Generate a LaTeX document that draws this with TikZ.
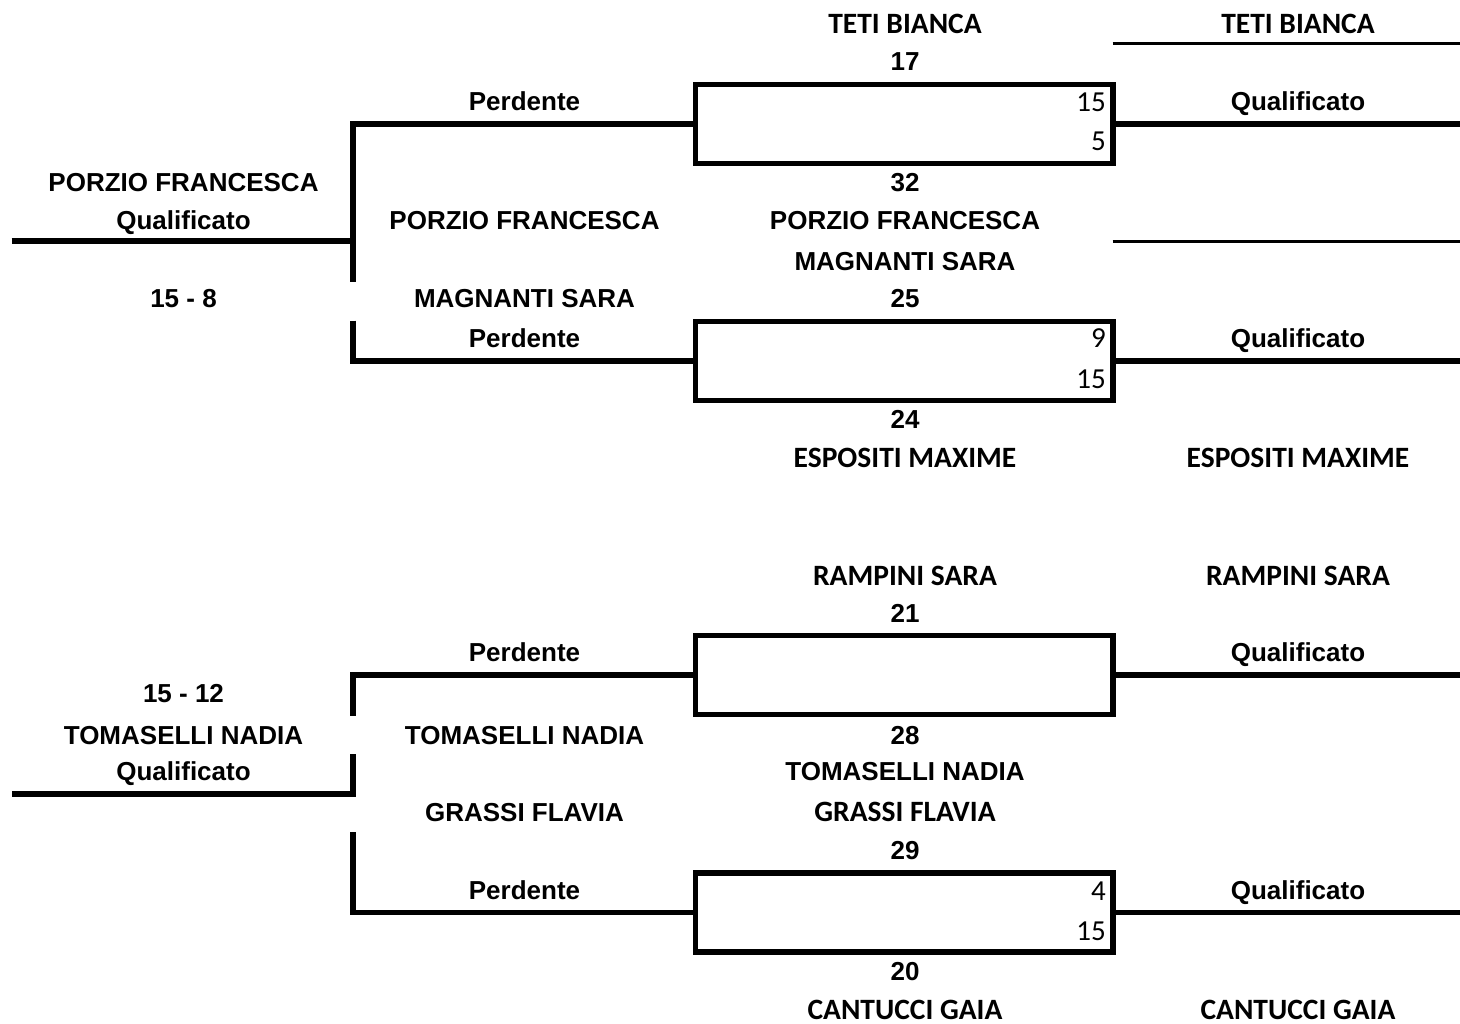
\documentclass[tikz,border=0pt]{standalone}
\usepackage{fontspec}
\newfontfamily\arfont{Liberation Sans}
\newfontfamily\calfont{Carlito}
\begin{document}
\begin{tikzpicture}[x=1pt,y=-1pt,
  ar/.style={font=\arfont\bfseries\fontsize{26}{30}\selectfont, anchor=base, inner sep=0pt},
  cal/.style={font=\calfont\bfseries\fontsize{29.5}{33}\selectfont, anchor=base, inner sep=0pt},
  sc/.style={font=\calfont\fontsize{29}{33}\selectfont, anchor=base east, inner sep=0pt},
  boxn/.style={draw, line width=5.5pt, minimum width=417.7pt, minimum height=79pt, inner sep=0pt},
  wire/.style={line width=5.5pt, line join=miter},
  thinwire/.style={line width=3.5pt}]
\useasboundingbox[fill=white] (0,0) rectangle (1460,1024);

% ---------- boxes ----------
\node[boxn] (box1) at (904.15,123.9) {};
\node[boxn] (box2) at (904.15,361.2) {};
\node[boxn] (box3) at (904.15,675) {};
\node[boxn] (box4) at (904.15,912.6) {};

% ---------- coordinates ----------
\coordinate (l1) at (11.7,241);
\coordinate (m1) at (353,241);
\coordinate (a1) at (353,123.9);
\coordinate (a2) at (353,281.7);
\coordinate (a3) at (353,320.7);
\coordinate (a4) at (353,361.2);
\coordinate (r1) at (1460,123.9);
\coordinate (r2) at (1460,361.2);
\coordinate (t1a) at (1112.7,43.3);
\coordinate (t1b) at (1460,43.3);
\coordinate (t2a) at (1112.7,241.3);
\coordinate (t2b) at (1460,241.3);

\coordinate (c1) at (353,675);
\coordinate (c2) at (353,715.7);
\coordinate (c3) at (353,754.3);
\coordinate (c4) at (353,793.8);
\coordinate (l2) at (11.7,793.8);
\coordinate (c5) at (353,832.3);
\coordinate (c6) at (353,912.6);
\coordinate (r3) at (1460,675);
\coordinate (r4) at (1460,912.6);

% ---------- connectors ----------
\draw[wire] (l1) -- (m1);
\draw[wire] (box1.west) -- (a1) -- (a2);
\draw[wire] (a3) -- (a4) -- (box2.west);
\draw[wire] (box1.east) -- (r1);
\draw[wire] (box2.east) -- (r2);
\draw[thinwire] (t1a) -- (t1b);
\draw[thinwire] (t2a) -- (t2b);

\draw[wire] (box3.west) -- (c1) -- (c2);
\draw[wire] (c3) -- (c4) -- (l2);
\draw[wire] (c5) -- (c6) -- (box4.west);
\draw[wire] (box3.east) -- (r3);
\draw[wire] (box4.east) -- (r4);

% ---------- texts top ----------
\node[cal] (n1) at (905,33.3) {TETI BIANCA};
\node[cal] (n2) at (1298,33.3) {TETI BIANCA};
\node[ar] (n3) at (905,71) {17};
\node[ar] (n4) at (524.5,110.7) {Perdente};
\node[ar] (n5) at (1298,110.5) {Qualificato};
\node[sc] (n6) at (1106,111.7) {15};
\node[sc] (n7) at (1106,151) {5};
\node[ar] (n8) at (183.5,191.7) {PORZIO FRANCESCA};
\node[ar] (n9) at (905,191.7) {32};
\node[ar] (n10) at (183.5,230) {Qualificato};
\node[ar] (n11) at (524.5,230) {PORZIO FRANCESCA};
\node[ar] (n12) at (905,230) {PORZIO FRANCESCA};
\node[ar] (n13) at (905,270.7) {MAGNANTI SARA};
\node[ar] (n14) at (183.5,307.3) {15 - 8};
\node[ar] (n15) at (524.5,307.3) {MAGNANTI SARA};
\node[ar] (n16) at (905,307.3) {25};
\node[ar] (n17) at (524.5,347.3) {Perdente};
\node[sc] (n18) at (1106,347.7) {9};
\node[ar] (n19) at (1298,347.3) {Qualificato};
\node[sc] (n20) at (1106,388.3) {15};
\node[ar] (n21) at (905,428.3) {24};
\node[cal] (n22) at (905,467.7) {ESPOSITI MAXIME};
\node[cal] (n23) at (1298,467.7) {ESPOSITI MAXIME};

% ---------- texts bottom ----------
\node[cal] (m1t) at (905,585) {RAMPINI SARA};
\node[cal] (m2t) at (1298,585) {RAMPINI SARA};
\node[ar] (m3t) at (905,622.3) {21};
\node[ar] (m4t) at (524.5,661.7) {Perdente};
\node[ar] (m5t) at (1298,661.5) {Qualificato};
\node[ar] (m6t) at (183.5,702.3) {15 - 12};
\node[ar] (m7t) at (183.5,744) {TOMASELLI NADIA};
\node[ar] (m8t) at (524.5,744) {TOMASELLI NADIA};
\node[ar] (m9t) at (905,744) {28};
\node[ar] (m10t) at (183.5,780.7) {Qualificato};
\node[ar] (m11t) at (905,780.7) {TOMASELLI NADIA};
\node[ar] (m12t) at (524.5,821) {GRASSI FLAVIA};
\node[cal] (m13t) at (905,821) {GRASSI FLAVIA};
\node[ar] (m14t) at (905,859) {29};
\node[ar] (m15t) at (524.5,899) {Perdente};
\node[sc] (m16t) at (1106,900) {4};
\node[ar] (m17t) at (1298,899) {Qualificato};
\node[sc] (m18t) at (1106,940) {15};
\node[ar] (m19t) at (905,980) {20};
\node[cal] (m20t) at (905,1019) {CANTUCCI GAIA};
\node[cal] (m21t) at (1298,1019) {CANTUCCI GAIA};
\end{tikzpicture}
\end{document}
